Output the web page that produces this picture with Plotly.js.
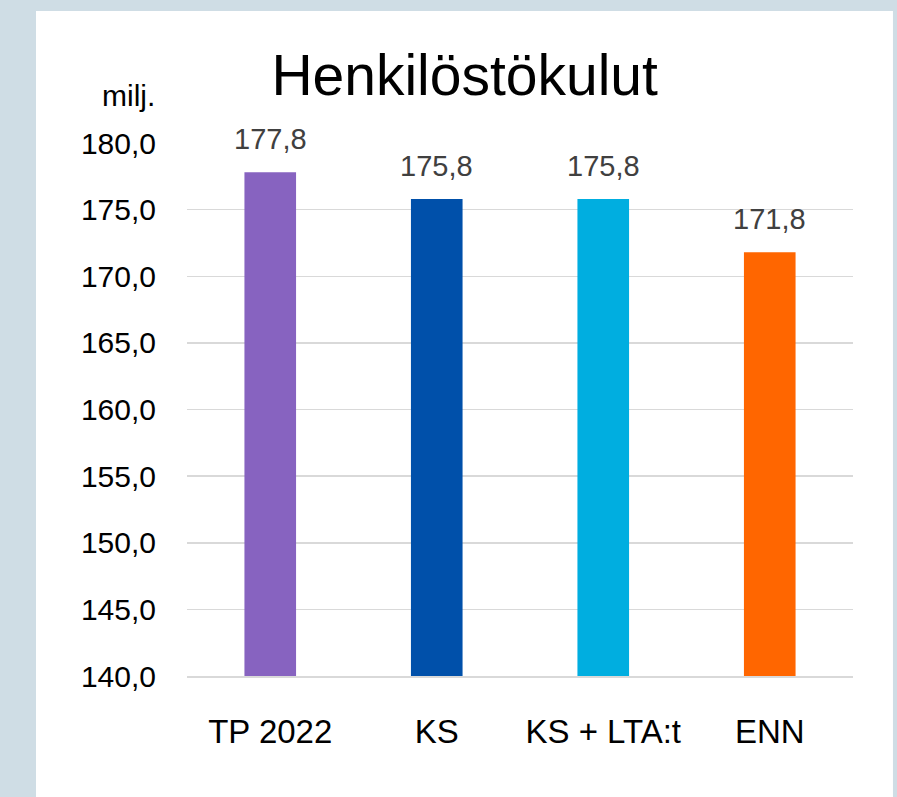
<!DOCTYPE html>
<html>
<head>
<meta charset="utf-8">
<script src="https://cdn.plot.ly/plotly-3.0.1.min.js"></script>
<style>
html,body{margin:0;padding:0;background:#cfdde5;}
#chart{width:897px;height:797px;}
</style>
</head>
<body>
<div id="chart"></div>
<script>
const categories = ["TP 2022", "KS", "KS + LTA:t", "ENN"];
const values = [177.8, 175.8, 175.8, 171.8];
const barColors = ["#8763c0", "#0050aa", "#00aee0", "#ff6600"];
const labels = ["177,8", "175,8", "175,8", "171,8"];
const yTickVals = [140, 145, 150, 155, 160, 165, 170, 175, 180];
const yTickText = ["140,0", "145,0", "150,0", "155,0", "160,0", "165,0", "170,0", "175,0", "180,0"];

const font = "Liberation Sans, Arial, sans-serif";

const trace = {
  type: "bar",
  x: categories,
  y: values,
  marker: {color: barColors},
  width: 0.31,
  hoverinfo: "skip"
};

const annotations = categories.map((c, i) => ({
  x: c, y: values[i], xref: "x", yref: "y",
  text: labels[i], showarrow: false,
  yanchor: "middle", yshift: 33,
  font: {family: font, size: 29, color: "#404040"}
}));
annotations.push({
  xref: "paper", yref: "paper", x: -0.088, y: 1.09,
  text: "milj.", showarrow: false, xanchor: "center", yanchor: "middle",
  font: {family: font, size: 30, color: "#000"}
});

const layout = {
  width: 897, height: 797,
  margin: {l: 187, r: 44, t: 143, b: 121},
  paper_bgcolor: "#cfdde5",
  plot_bgcolor: "#ffffff",
  showlegend: false,
  title: {
    text: "Henkilöstökulut",
    x: 0.518, xanchor: "center",
    y: 0.906, yanchor: "middle",
    font: {family: font, size: 57, color: "#000"}
  },
  xaxis: {
    type: "category",
    tickfont: {family: font, size: 33, color: "#000"},
    ticks: "outside", ticklen: 26, tickcolor: "rgba(0,0,0,0)",
    showline: true, linecolor: "#d9d9d9", linewidth: 1.5,
    showgrid: false, fixedrange: true
  },
  yaxis: {
    range: [140, 180],
    tickvals: yTickVals,
    ticktext: yTickText,
    tickfont: {family: font, size: 30, color: "#000"},
    ticks: "outside", ticklen: 24, tickcolor: "rgba(0,0,0,0)",
    showgrid: true, gridcolor: "#d9d9d9", gridwidth: 1.5,
    zeroline: false, showline: false, fixedrange: true
  },
  shapes: [{
    type: "rect", xref: "paper", yref: "paper", layer: "below",
    x0: -0.2267, x1: 1.06, y0: -0.23, y1: 1.2477,
    fillcolor: "#ffffff", line: {width: 0}
  }],
  annotations: annotations
};

Plotly.newPlot("chart", [trace], layout, {displayModeBar: false, staticPlot: true});
</script>
</body>
</html>
